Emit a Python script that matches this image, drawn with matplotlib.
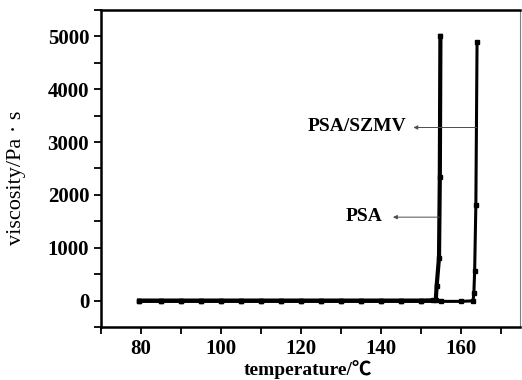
import numpy as np
import matplotlib
matplotlib.use("Agg")
import matplotlib.pyplot as plt
from matplotlib.ticker import MultipleLocator

plt.rcParams["font.family"] = ["Liberation Serif", "Noto Sans CJK SC", "DejaVu Sans"]

# PSA (left curve)
psa_temp = [79.5, 85, 90, 95, 100, 105, 110, 115, 120, 125, 130, 135, 140, 145,
            150, 153.0, 153.6, 153.8, 154.4, 154.6, 154.75]
psa_visc = [0, 0, 0, 0, 0, 0, 0, 0, 0, 0, 0, 0, 0, 0,
            0, 5, 20, 270, 815, 2340, 5010]

# PSA/SZMV (right curve)
szmv_temp = [79.5, 85, 90, 95, 100, 105, 110, 115, 120, 125, 130, 135, 140, 145,
             150, 155, 160, 162.9, 163.1, 163.3, 163.6, 163.9]
szmv_visc = [-15, -15, -15, -15, -15, -15, -15, -15, -15, -15, -15, -15, -15, -15,
             -15, -15, -15, -5, 137, 564, 1818, 4900]

fig = plt.figure(figsize=(5.22, 3.80), dpi=100)
ax = fig.add_axes([0.1935, 0.1395, 0.8025, 0.8342])

ax.plot(psa_temp, psa_visc, "k-", lw=3.0, marker="s", ms=2.2)
ax.plot(szmv_temp, szmv_visc, "k-", lw=2.2, marker="s", ms=2.2)

# arrows pointing from the curves to the labels
arrow = dict(arrowstyle="-|>", lw=0.7, color="0.3", mutation_scale=6,
             shrinkA=0, shrinkB=0)
ax.annotate("", xy=(148.0, 3276), xytext=(163.8, 3276), arrowprops=arrow)
ax.annotate("", xy=(142.9, 1579), xytext=(154.5, 1579), arrowprops=arrow)
ax.text(146.3, 3290, "PSA/SZMV", ha="right", va="center",
        fontsize=14, fontweight="bold")
ax.text(140.2, 1590, "PSA", ha="right", va="center",
        fontsize=14, fontweight="bold")

ax.set_xlim(70, 174.6)
ax.set_ylim(-500, 5500)
ax.set_xticks([80, 100, 120, 140, 160])
ax.xaxis.set_minor_locator(MultipleLocator(10))
ax.yaxis.set_major_locator(MultipleLocator(1000))
ax.yaxis.set_minor_locator(MultipleLocator(500))
ax.tick_params(which="both", direction="out", length=5, width=1.3,
               top=False, right=False, labelsize=15)
for lab in ax.get_xticklabels() + ax.get_yticklabels():
    lab.set_fontweight("bold")

for side in ["left", "bottom", "top"]:
    ax.spines[side].set_linewidth(1.8)
ax.spines["right"].set_linewidth(0.8)
ax.spines["right"].set_color("0.5")

ax.set_xlabel("temperature/℃", fontsize=14, fontweight="bold")
ax.xaxis.set_label_coords(0.493, -0.105)
ax.set_ylabel("viscosity/Pa · s", fontsize=16)
ax.yaxis.set_label_coords(-0.18, 0.472)

fig.savefig("out.png", dpi=100)
